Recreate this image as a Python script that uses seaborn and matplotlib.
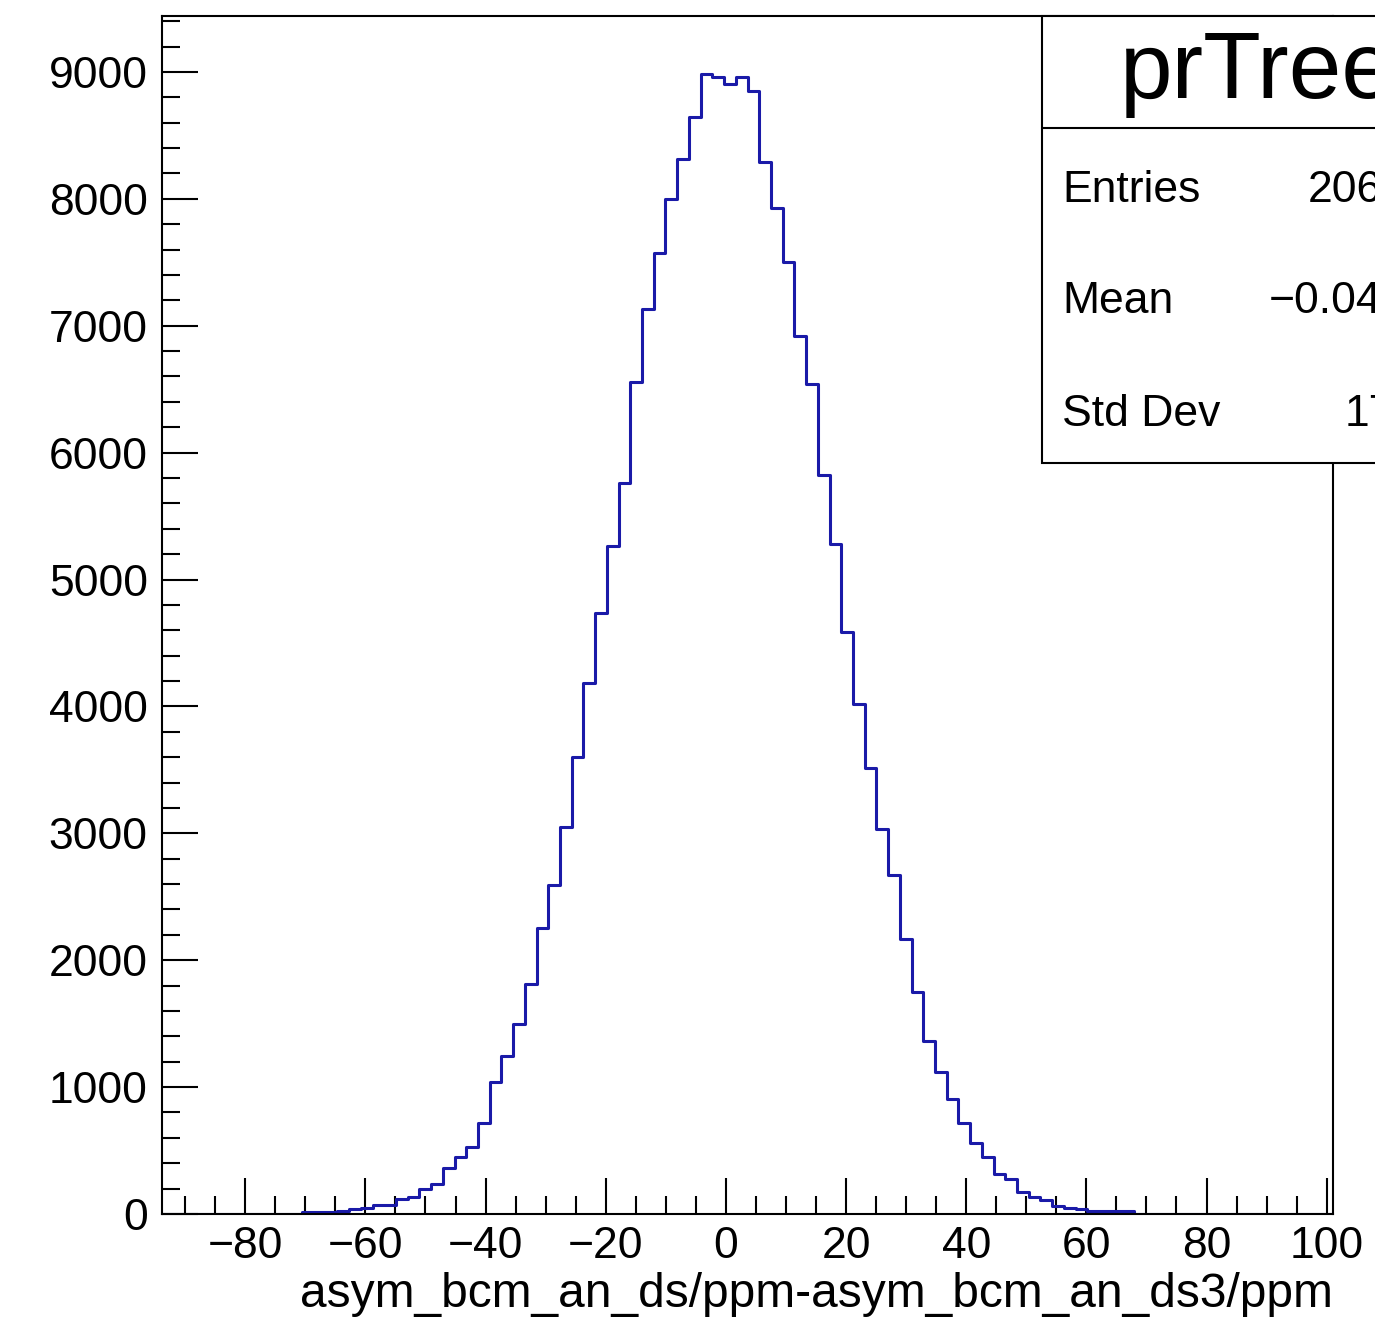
import numpy as np
import pandas as pd
import matplotlib
matplotlib.use("Agg")
import matplotlib.pyplot as plt
from matplotlib.patches import Rectangle
from matplotlib.lines import Line2D
from matplotlib.ticker import MultipleLocator
import seaborn as sns

# binning of the ROOT histogram (100 bins over the axis range)
x_lo, x_hi, n_bins = -93.9, 101.1, 100
first_bin = 12

# bin contents (bins 12..82, all others empty)
counts = [12, 15, 18, 22, 42, 50, 68, 74,
          116, 131, 195, 236, 360, 447, 530, 720,
          1038, 1245, 1497, 1810, 2251, 2593, 3052, 3599, 4187, 4735,
          5264, 5763, 6559, 7129, 7570, 7996, 8310, 8647, 8981, 8957,
          8903, 8963, 8852, 8288, 7928, 7504, 6919, 6541, 5824, 5280,
          4584, 4017, 3517, 3032, 2671, 2167, 1747, 1366, 1117, 906,
          720, 557, 447, 315, 276, 176, 131, 110, 66, 48,
          42, 26, 24, 22, 20]

title = "prTree"
stat_labels = ["Entries", "Mean", "Std Dev"]
stat_values = ["206316", "\u22120.04376", "17.92"]
xlabel = "asym_bcm_an_ds/ppm-asym_bcm_an_ds3/ppm"

W, H = 1375, 1323

sns.set_style("white")
plt.rcParams['font.family'] = ['Liberation Sans', 'DejaVu Sans']
plt.rcParams.update({"text.color": "black", "axes.labelcolor": "black",
                     "xtick.color": "black", "ytick.color": "black"})

edges = np.linspace(x_lo, x_hi, n_bins + 1)
bw = edges[1] - edges[0]
centers = edges[first_bin:first_bin + len(counts)] + bw / 2
df = pd.DataFrame({"x": centers, "n": counts})

fig = plt.figure(figsize=(W / 100, H / 100), dpi=100)
ax = fig.add_axes([161.7 / W, 1 - 1214 / H, (1333.3 - 161.7) / W, (1214 - 15.7) / H])

sns.histplot(data=df, x="x", weights="n", bins=edges.tolist(), element="step", fill=False,
             color="#1a1aa8", linewidth=2.2, ax=ax)

ax.set_xlim(x_lo, x_hi)
ax.set_ylim(0, 9443)
ax.set_ylabel("")
ax.set_xlabel(xlabel, fontsize=34.5, loc="right", labelpad=3)

ax.xaxis.set_major_locator(MultipleLocator(20))
ax.xaxis.set_minor_locator(MultipleLocator(5))
ax.yaxis.set_major_locator(MultipleLocator(1000))
ax.yaxis.set_minor_locator(MultipleLocator(200))
ax.tick_params(which="both", direction="in", bottom=True, left=True,
               top=False, right=False, width=1.5, color="black")
ax.tick_params(which="major", length=26, labelsize=32, labelcolor="black")
ax.tick_params(axis="x", which="major", pad=9)
ax.tick_params(axis="y", which="major", pad=10)
ax.tick_params(which="minor", length=13)
for s in ax.spines.values():
    s.set_linewidth(1.5)
    s.set_color("black")

# stats box, partly outside the canvas like the original
def fx(px):
    return px / W

def fy(py):
    return 1 - py / H

fig.add_artist(Rectangle((fx(1042), fy(463)), fx(1600) - fx(1042), fy(16) - fy(463),
                         transform=fig.transFigure, facecolor="white",
                         edgecolor="black", linewidth=1.5, zorder=10))
fig.add_artist(Line2D([fx(1042), fx(1600)], [fy(128), fy(128)],
                      transform=fig.transFigure, color="black", linewidth=1.5, zorder=11))
fig.text(fx(1120), fy(98), title, fontsize=68, va="baseline", ha="left", zorder=12)
for lab, val, yb in zip(stat_labels, stat_values, [202, 313, 426]):
    fig.text(fx(1062), fy(yb), lab, fontsize=32, va="baseline", ha="left", zorder=12)
    fig.text(fx(1456), fy(yb), val, fontsize=32, va="baseline", ha="right", zorder=12)

fig.savefig("out.png", dpi=100)
